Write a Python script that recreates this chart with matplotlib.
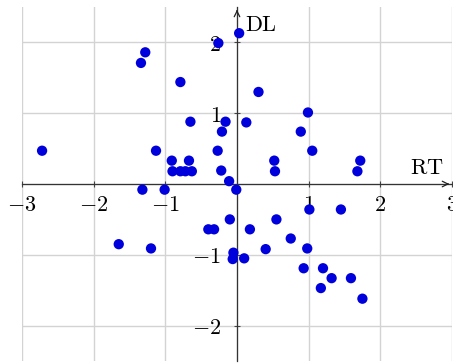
import matplotlib; matplotlib.use("Agg")
import matplotlib.pyplot as plt
from matplotlib.ticker import FuncFormatter
plt.rcParams.update({"mathtext.fontset": "cm", "font.family": "serif", "font.size": 10})

# points
rt = [-2.72, -1.28, -1.34, -0.79, -0.26, -0.65, -1.13, -0.27, -0.16, -0.21,
      -0.91, -0.67, -0.90, -0.79, -0.72, -0.63, -0.22, -0.11, -0.01, -1.32,
      -1.01, 0.13, 0.03, 0.30, 0.99, 0.89, 1.05, 0.52, 0.53, 1.72,
      1.68, -1.65, -1.20, -0.40, -0.32, -0.10, 0.18, -0.05, -0.06, 0.10,
      0.40, 1.01, 1.45, 0.55, 0.75, 0.98, 0.93, 1.20, 1.32, 1.59,
      1.17, 1.75]
dl = [0.47, 1.86, 1.71, 1.44, 1.99, 0.88, 0.47, 0.47, 0.88, 0.74,
      0.33, 0.33, 0.18, 0.18, 0.18, 0.18, 0.19, 0.04, -0.08, -0.08,
      -0.08, 0.87, 2.13, 1.30, 1.01, 0.74, 0.47, 0.33, 0.18, 0.33,
      0.18, -0.85, -0.91, -0.64, -0.64, -0.50, -0.64, -0.97, -1.06, -1.05,
      -0.92, -0.36, -0.36, -0.50, -0.77, -0.91, -1.19, -1.19, -1.33, -1.33,
      -1.47, -1.62]
xticks = [-3, -2, -1, 1, 2, 3]
yticks = [-2, -1, 1, 2]

fig = plt.figure(figsize=(4.53, 3.63), dpi=100)
ax = fig.add_axes([22/453, 2/363, 430/453, 354/363])
ax.set_xlim(-3, 3); ax.set_ylim(-2.5, 2.5)

for v in [-3, -2, -1, 0, 1, 2, 3]:
    ax.axvline(v, color="#d3d3d3", lw=1, zorder=0)
for v in [-2, -1, 0, 1, 2]:
    ax.axhline(v, color="#d3d3d3", lw=1, zorder=0)

ax.scatter(rt, dl, s=55, color="#0000dd", edgecolors="none", zorder=3)

for s in ["top", "right"]:
    ax.spines[s].set_visible(False)
ax.spines["left"].set_position(("data", 0))
ax.spines["bottom"].set_position(("data", 0))
for s in ["left", "bottom"]:
    ax.spines[s].set_color("#333333"); ax.spines[s].set_linewidth(0.9)
ax.annotate("", xy=(3.0, 0), xytext=(2.9, 0),
            arrowprops=dict(arrowstyle="->", color="#222222", lw=0.9), annotation_clip=False)
ax.annotate("", xy=(0, 2.5), xytext=(0, 2.4),
            arrowprops=dict(arrowstyle="->", color="#222222", lw=0.9), annotation_clip=False)

fmt = FuncFormatter(lambda v, p: "$%d$" % v)
ax.set_xticks(xticks); ax.set_yticks(yticks)
ax.xaxis.set_major_formatter(fmt); ax.yaxis.set_major_formatter(fmt)
ax.tick_params(direction="inout", length=5, width=0.8, color="#444444", labelsize=16)
ax.tick_params(axis="x", pad=5)
ax.tick_params(axis="y", pad=9)

ax.text(2.65, 0.23, r"$\mathrm{RT}$", fontsize=16, ha="center", va="center")
ax.text(0.34, 2.25, r"$\mathrm{DL}$", fontsize=16, ha="center", va="center")

fig.savefig("out.png", dpi=100)
